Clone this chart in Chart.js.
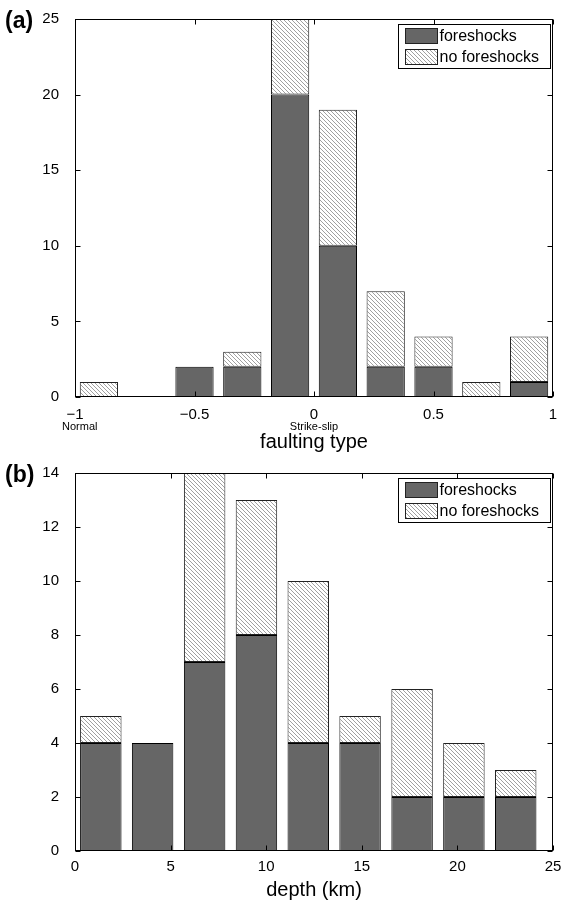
<!DOCTYPE html>
<html lang="en">
<head>
<meta charset="UTF-8">
<title>Foreshocks by faulting type and depth</title>
<script src="https://cdn.jsdelivr.net/npm/chart.js@4"></script>
<style>
  body { margin: 0; background: #fff; }
  .panel { position: relative; width: 566px; }
</style>
</head>
<body>
<div class="panel" style="height:455px"><canvas id="chartA"></canvas></div>
<div class="panel" style="height:453px"><canvas id="chartB"></canvas></div>
<script>
// (a) faulting type histogram, bin centres and counts
const faultBins = [-0.9, -0.7, -0.5, -0.3, -0.1, 0.1, 0.3, 0.5, 0.7, 0.9];
const faultFore = [0, 0, 2, 2, 20, 10, 2, 2, 0, 1];
const faultNoFore = [1, 0, 0, 1, 5, 9, 5, 2, 1, 3];
const faultSubAt = [-0.98, 0];
const faultSubLabels = ['Normal', 'Strike-slip'];

// (b) depth histogram (km)
const depthBins = [1.35, 4.06, 6.78, 9.49, 12.2, 14.91, 17.63, 20.34, 23.05];
const depthFore = [4, 4, 7, 8, 4, 4, 2, 2, 2];
const depthNoFore = [1, 0, 7, 5, 6, 1, 4, 2, 1];

const seriesNames = ['foreshocks', 'no foreshocks'];

Chart.defaults.font.family = '"Liberation Sans", Arial, sans-serif';
Chart.defaults.color = '#000';

// diagonal hatch used for the "no foreshocks" bars
function makeHatch() {
  const s = 4;
  const c = document.createElement('canvas');
  c.width = s; c.height = s;
  const g = c.getContext('2d');
  g.fillStyle = '#fff';
  g.fillRect(0, 0, s, s);
  g.strokeStyle = '#a0a0a0';
  g.lineWidth = 1;
  g.beginPath();
  g.moveTo(-1, -1); g.lineTo(s + 1, s + 1);
  g.moveTo(s - 1, -1); g.lineTo(s + 1, 1);
  g.moveTo(-1, s - 1); g.lineTo(1, s + 1);
  g.stroke();
  return g.createPattern(c, 'repeat');
}
const hatch = makeHatch();

function fmt(v) {
  return v < 0 ? '\u2212' + Math.abs(v) : String(v);
}

// frame, inward ticks, legend, labels
const decor = {
  id: 'decor',
  afterDatasetsDraw(chart, args, o) {
    const { ctx, chartArea: a, scales: { x, y } } = chart;
    const L = Math.round(a.left) + 0.5, R = Math.round(a.right) - 0.5;
    const T = Math.round(a.top) + 0.5, B = Math.round(a.bottom) - 0.5;
    ctx.save();
    ctx.strokeStyle = '#000';
    ctx.lineWidth = 1;
    ctx.beginPath();
    x.ticks.forEach(t => {
      const px = Math.round(x.getPixelForValue(t.value)) + 0.5;
      ctx.moveTo(px, B); ctx.lineTo(px, B - 5);
      ctx.moveTo(px, T); ctx.lineTo(px, T + 5);
    });
    y.ticks.forEach(t => {
      const py = Math.round(y.getPixelForValue(t.value)) + 0.5;
      ctx.moveTo(L, py); ctx.lineTo(L + 5, py);
      ctx.moveTo(R, py); ctx.lineTo(R - 5, py);
    });
    ctx.stroke();
    ctx.strokeRect(L, T, R - L, B - T);

    // legend
    const lw = 152, lh = 44;
    const lx = Math.round(a.right) - 155 + 0.5, ly = Math.round(a.top) + 5 + 0.5;
    ctx.fillStyle = '#fff';
    ctx.fillRect(lx, ly, lw, lh);
    ctx.strokeRect(lx, ly, lw, lh);
    ctx.font = '16px "Liberation Sans", Arial, sans-serif';
    ctx.textBaseline = 'middle';
    ctx.textAlign = 'left';
    chart.data.datasets.forEach((ds, i) => {
      const sy = ly + 4 + i * 21;
      ctx.fillStyle = ds.backgroundColor;
      ctx.fillRect(lx + 7, sy, 32, 15);
      ctx.strokeStyle = '#222';
      ctx.strokeRect(lx + 7, sy, 32, 15);
      ctx.fillStyle = '#000';
      ctx.fillText(ds.label, lx + 41, sy + 8);
    });

    // small labels under the x ticks
    if (o.subAt) {
      ctx.font = '11px "Liberation Sans", Arial, sans-serif';
      ctx.textAlign = 'center';
      o.subAt.forEach((v, i) => {
        ctx.fillText(o.subLabels[i], x.getPixelForValue(v), a.bottom + 30);
      });
    }

    // axis title
    ctx.font = '20px "Liberation Sans", Arial, sans-serif';
    ctx.textAlign = 'center';
    ctx.fillText(o.title, (a.left + a.right) / 2, o.titleY);

    // panel letter
    ctx.font = 'bold 23px "Liberation Sans", Arial, sans-serif';
    ctx.textAlign = 'left';
    ctx.fillText(o.letter, 5, a.top + 3);
    ctx.restore();
  }
};

function makeChart(id, bins, fore, noFore, xr, yr, pad, axisH, tickPad, extra) {
  return new Chart(document.getElementById(id), {
    type: 'bar',
    data: {
      datasets: [
        {
          label: seriesNames[0],
          data: bins.map((b, i) => ({ x: b, y: fore[i] })),
          backgroundColor: '#666666',
          borderColor: '#000',
          borderWidth: 1,
          borderSkipped: false
        },
        {
          label: seriesNames[1],
          data: bins.map((b, i) => ({ x: b, y: noFore[i] })),
          backgroundColor: hatch,
          borderColor: '#222',
          borderWidth: 1,
          borderSkipped: false
        }
      ]
    },
    options: {
      responsive: true,
      maintainAspectRatio: false,
      animation: false,
      layout: { padding: pad },
      datasets: { bar: { categoryPercentage: 1, barPercentage: 0.8 } },
      plugins: {
        legend: { display: false },
        tooltip: { enabled: false },
        decor: extra
      },
      scales: {
        x: {
          type: 'linear',
          stacked: true,
          offset: false,
          min: xr[0], max: xr[1],
          grid: { display: false },
          border: { display: false },
          ticks: { stepSize: xr[2], padding: tickPad, font: { size: 15 }, callback: fmt, maxRotation: 0 },
          afterFit: s => { s.height = axisH; }
        },
        y: {
          stacked: true,
          min: yr[0], max: yr[1],
          grid: { display: false },
          border: { display: false },
          ticks: { stepSize: yr[2], padding: 8, font: { size: 15 }, callback: fmt },
          afterFit: s => { s.width = 75; }
        }
      }
    },
    plugins: [decor]
  });
}

makeChart('chartA', faultBins, faultFore, faultNoFore,
  [-1, 1, 0.5], [0, 25, 5],
  { top: 19, right: 13, left: 0, bottom: 0 }, 58, 1,
  { letter: '(a)', title: 'faulting type', titleY: 442, subAt: faultSubAt, subLabels: faultSubLabels });

makeChart('chartB', depthBins, depthFore, depthNoFore,
  [0, 25, 5], [0, 14, 2],
  { top: 18, right: 13, left: 0, bottom: 0 }, 57, -1,
  { letter: '(b)', title: 'depth (km)', titleY: 435 });
</script>
</body>
</html>
